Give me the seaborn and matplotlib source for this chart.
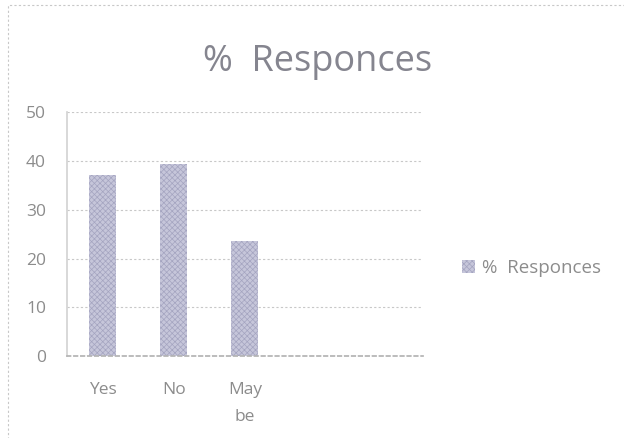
import matplotlib
matplotlib.use("Agg")
import matplotlib.pyplot as plt
import matplotlib.patches as mpatches
import seaborn as sns

# data
categories = ["Yes", "No", "May\nbe"]
responses = [37.1, 39.3, 23.6]
n_slots = 5  # the axis has room for 5 categories, last two are empty

sns.set_theme(style="white")
plt.rcParams['font.family'] = ['Open Sans', 'DejaVu Sans']
plt.rcParams['hatch.linewidth'] = 0.5

text_col = '#8c8c8c'
bar_col = '#c6c6da'
hatch_col = '#a4a4c0'

fig = plt.figure(figsize=(6.24, 4.38), dpi=100)
ax = fig.add_axes([0.107, 0.187, 0.571, 0.557])

sns.barplot(x=categories, y=responses, color=bar_col, width=0.38,
            saturation=1, ax=ax, edgecolor=hatch_col, linewidth=0)
for bar in ax.patches:
    bar.set_hatch('xxxxxx')

ax.set_xlim(-0.5, n_slots - 0.5)
ax.set_ylim(0, 50)
ax.set_yticks(range(0, 51, 10))
ax.set_xticks(range(len(categories)))
ax.set_xticklabels(categories, linespacing=1.9)
ax.set_xticks([i - 0.5 for i in range(n_slots + 1)], minor=True)
ax.tick_params(axis='x', which='major', length=0, pad=19, labelsize=12.5, labelcolor=text_col)
ax.tick_params(axis='x', which='minor', length=4, color='#bbbbbb', direction='out')
ax.tick_params(axis='y', length=0, pad=15, labelsize=12.5, labelcolor=text_col)
ax.set_xlabel('')
ax.set_ylabel('')

ax.yaxis.grid(True, linestyle=(0, (2, 2)), color='#c8c8c8', linewidth=0.8)
ax.set_axisbelow(True)
for side in ['top', 'right']:
    ax.spines[side].set_visible(False)
ax.spines['left'].set_color('#d4d4d4')
ax.spines['bottom'].set_color('#b4b4b4')
ax.spines['bottom'].set_linestyle((0, (2, 2)))

fig.text(0.509, 0.858, '%  Responces', ha='center', va='center',
         fontsize=26, color='#85858f')

handle = mpatches.Patch(facecolor=bar_col, hatch='xxxxxx', edgecolor=hatch_col,
                        linewidth=0, label='%  Responces')
fig.legend(handles=[handle], loc='center left', bbox_to_anchor=(0.713, 0.388),
           frameon=False, fontsize=13.5, labelcolor=text_col,
           handlelength=0.7, handleheight=0.7, handletextpad=0.4)

# faint dashed border of the chart area
border = mpatches.Rectangle((0.013, -0.01), 1.0, 0.998, transform=fig.transFigure,
                            fill=False, edgecolor='#c8c8c8', linewidth=0.8,
                            linestyle=(0, (2, 2)))
fig.patches.append(border)

fig.savefig('out.png', dpi=100)
